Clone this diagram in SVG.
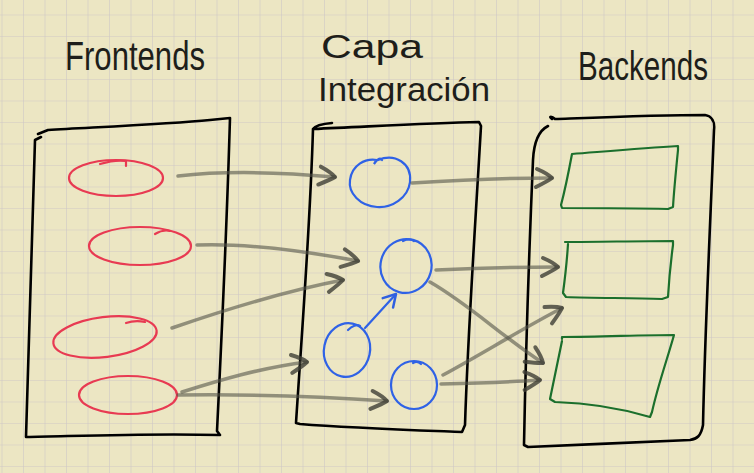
<svg xmlns="http://www.w3.org/2000/svg" width="754" height="473" viewBox="0 0 754 473">
<defs>
<pattern id="grid" x="1.5" y="14.5" width="21.5" height="21.5" patternUnits="userSpaceOnUse">
<path d="M0,0 H21.5 M0,0 V21.5" fill="none" stroke="#cfc8c6" stroke-width="1.2"/>
</pattern>
<marker id="head" markerUnits="userSpaceOnUse" markerWidth="30" markerHeight="30" refX="0" refY="0" viewBox="-20 -15 30 30" orient="auto" overflow="visible">
<path d="M-15,-9 C-8,-6 -3,-3 0,0 C-4,3 -10,6 -16,9" fill="none" stroke="#3f3f36" stroke-opacity="0.8" stroke-width="4" stroke-linecap="round" stroke-linejoin="round"/>
</marker>
<marker id="bhead" markerUnits="userSpaceOnUse" markerWidth="30" markerHeight="30" refX="0" refY="0" viewBox="-20 -15 30 30" orient="auto" overflow="visible">
<path d="M-12,-7 L0,0 L-12,7" fill="none" stroke="#3060e0" stroke-width="2.5" stroke-linecap="round" stroke-linejoin="round"/>
</marker>
</defs>
<style>
.title{font-family:"Liberation Sans","DejaVu Sans",sans-serif;fill:#1e1e1a;font-weight:normal}
.box{fill:none;stroke:#000;stroke-width:2.6;stroke-linejoin:round;stroke-linecap:round}
.front{fill:none;stroke:#e83a52;stroke-width:2.2;stroke-linecap:round}
.integ{fill:none;stroke:#2f62e6;stroke-width:2.2;stroke-linecap:round}
.back{fill:none;stroke:#1b6f2c;stroke-width:2.2;stroke-linejoin:round;stroke-linecap:round}
.conn{fill:none;stroke:#55554a;stroke-opacity:0.6;stroke-width:3.5;stroke-linecap:round}
</style>
<rect width="754" height="473" fill="#ece6c3"/>
<rect width="754" height="473" fill="url(#grid)"/>

<g id="titles">
<text class="title" x="65" y="70" font-size="40" textLength="140" lengthAdjust="spacingAndGlyphs">Frontends</text>
<text class="title" x="321" y="58" font-size="34" textLength="102" lengthAdjust="spacingAndGlyphs">Capa</text>
<text class="title" x="318" y="101" font-size="34" textLength="172" lengthAdjust="spacingAndGlyphs">Integración</text>
<text class="title" x="578" y="80" font-size="40" textLength="130" lengthAdjust="spacingAndGlyphs">Backends</text>
</g>

<g id="frontends">
<path class="box" d="M38,134 L48,130 C100,127 170,124 210,120 L230,118 C227,220 222,330 217,431 L220,435 C150,433 80,436 26,437 C29,330 32,230 35,140 L41,137"/>
<g id="fe1"><ellipse class="front" cx="116" cy="178" rx="47" ry="18"/><path class="front" d="M100,164 C110,161 120,160 126,161 L126,166"/></g>
<g id="fe2"><ellipse class="front" cx="140" cy="246" rx="51" ry="19"/><path class="front" d="M155,234 C160,231 166,230 170,231"/></g>
<g id="fe3"><ellipse class="front" cx="105" cy="337" rx="52" ry="20" transform="rotate(-7 105 337)"/><path class="front" d="M126,323 C132,321 140,321 145,322"/></g>
<g id="fe4"><ellipse class="front" cx="128" cy="395" rx="49" ry="19"/></g>
</g>

<g id="integracion">
<path class="box" d="M332,123 C320,124 315,126 313,129 C380,126 430,123 479,122 L481,126 C475,230 468,330 465,425 L462,432 C410,430 350,428 300,424 L296,423 C302,330 310,230 313,129"/>
<g id="ci1"><path class="integ" d="M378,160 C395,153 412,163 410,182 C408,198 392,208 377,207 C360,206 348,193 350,180 C352,165 365,158 377,160 L374,164 C376,160 380,157 382,160"/></g>
<g id="ci2"><ellipse class="integ" cx="406" cy="266" rx="25.5" ry="27" transform="rotate(15 406 266)"/><path class="integ" d="M403,241 C407,239 411,239 414,241"/></g>
<g id="ci3"><ellipse class="integ" cx="347" cy="350" rx="23" ry="27" transform="rotate(12 347 350)"/><path class="integ" d="M348,330 C352,326 357,324 360,326"/></g>
<g id="ci4"><ellipse class="integ" cx="414" cy="385" rx="23" ry="24"/><path class="integ" d="M413,363 C416,361 419,362 421,364"/></g>
<path class="integ" d="M365,328 L396,294" marker-end="url(#bhead)"/>
</g>

<g id="backends">
<path class="box" d="M552,119 C548,116 552,116 555,119 C610,117 660,115 705,115 C712,116 715,122 714,130 C710,230 705,330 703,425 C701,436 697,439 690,440 C640,442 580,445 528,447 L524,445 C526,340 530,230 533,160 C534,140 540,130 548,126"/>
<g id="be1"><path class="back" d="M572,154 C610,151 645,148 678,146 L678,150 C676,170 674,190 673,207 L668,209 C630,208 595,208 562,208 L561,205 C565,190 569,170 572,154"/></g>
<g id="be2"><path class="back" d="M565,242 C600,242 635,241 673,241 L673,245 C671,260 669,280 668,297 L662,299 C630,298 595,298 566,297 L563,293 C565,278 567,260 568,244"/></g>
<g id="be3"><path class="back" d="M562,339 L562,337 C600,337 640,335 674,335 C667,360 658,385 652,412 L650,417 C620,408 590,403 555,402 L550,399 C554,380 558,360 562,341"/></g>
</g>

<g id="connectors">
<path class="conn" d="M178,176 C230,170 290,173 335,177" marker-end="url(#head)"/>
<path class="conn" d="M197,245 C250,243 310,252 358,261" marker-end="url(#head)"/>
<path class="conn" d="M172,328 C230,308 290,290 343,280" marker-end="url(#head)"/>
<path class="conn" d="M182,392 C220,380 260,368 307,362" marker-end="url(#head)"/>
<path class="conn" d="M178,395 C250,394 330,397 387,401" marker-end="url(#head)"/>
<path class="conn" d="M412,183 C460,180 510,178 552,178" marker-end="url(#head)"/>
<path class="conn" d="M436,270 C480,268 520,267 558,267" marker-end="url(#head)"/>
<path class="conn" d="M430,282 C470,305 500,335 543,363" marker-end="url(#head)"/>
<path class="conn" d="M443,375 C480,355 520,330 562,308" marker-end="url(#head)"/>
<path class="conn" d="M441,384 C480,383 510,382 540,380" marker-end="url(#head)"/>
</g>
</svg>
